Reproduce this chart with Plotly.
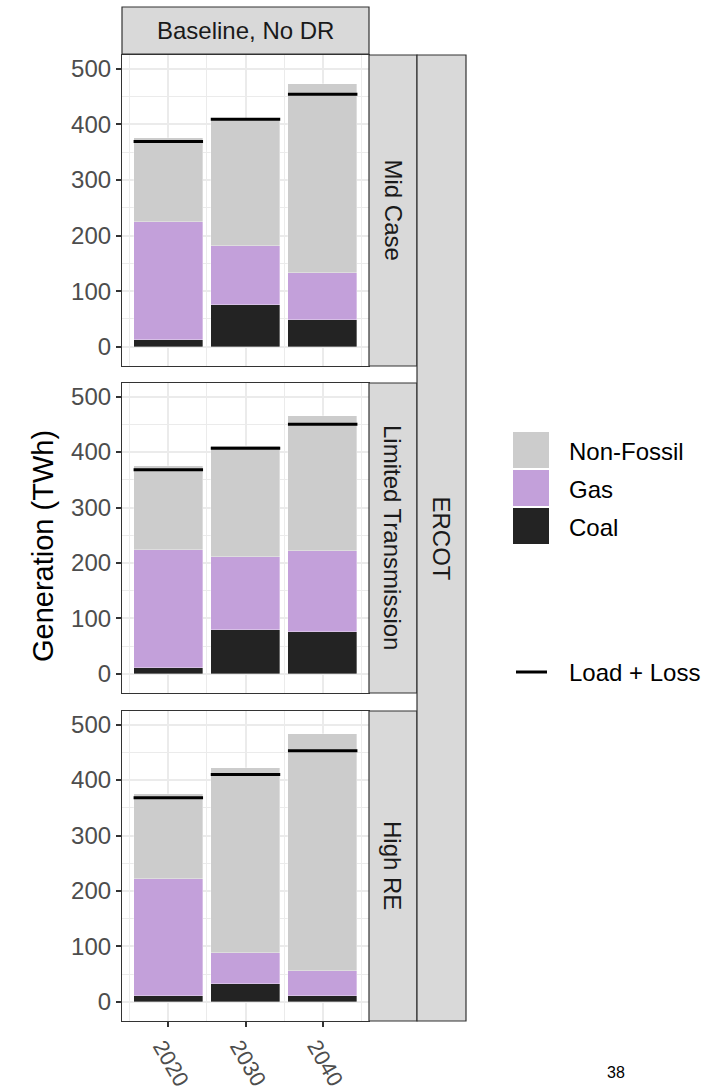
import plotly.graph_objects as go

W, H = 720, 1091

years = ["2020", "2030", "2040"]
scenarios = ["Mid Case", "Limited Transmission", "High RE"]
region = "ERCOT"
column_label = "Baseline, No DR"

# Generation by source (TWh), one list per scenario, ordered by year
coal_mid = [12, 75, 49]
gas_mid = [212, 106, 84]
nonfossil_mid = [151, 229, 340]
load_mid = [369, 409, 454]

coal_lt = [11, 80, 75]
gas_lt = [212, 131, 147]
nonfossil_lt = [151, 200, 243]
load_lt = [368, 407, 450]

coal_hre = [11, 32, 10]
gas_hre = [211, 56, 45]
nonfossil_hre = [152, 333, 428]
load_hre = [368, 410, 453]

y_ticks = [0, 100, 200, 300, 400, 500]

coal_by_row = [coal_mid, coal_lt, coal_hre]
gas_by_row = [gas_mid, gas_lt, gas_hre]
nonfossil_by_row = [nonfossil_mid, nonfossil_lt, nonfossil_hre]
load_by_row = [load_mid, load_lt, load_hre]

COAL = "#232323"
GAS = "#C3A0DA"
NONFOSSIL = "#CCCCCC"
STRIP_FILL = "#D9D9D9"
BORDER = "#333333"
GRID = "#EBEBEB"
TICKFONT = "#4D4D4D"
FONT = "Liberation Sans, Arial, sans-serif"


def px(x):
    return x / W


def py(y):
    return 1 - y / H


# panel extents in pixels
panel_x = (122, 369)
panel_rows = [(55, 366), (383, 693), (711, 1021)]
bar_width = 0.9
xpos = [1, 2, 3]

fig = go.Figure()

for r in range(3):
    xa = "x" if r == 0 else f"x{r + 1}"
    ya = "y" if r == 0 else f"y{r + 1}"
    for name, vals, col in [("Coal", coal_by_row[r], COAL),
                            ("Gas", gas_by_row[r], GAS),
                            ("Non-Fossil", nonfossil_by_row[r], NONFOSSIL)]:
        fig.add_trace(go.Bar(
            x=xpos, y=vals, width=bar_width, name=name,
            marker=dict(color=col, line=dict(color="rgba(255,255,255,0.55)", width=0.6)),
            xaxis=xa, yaxis=ya, showlegend=False,
        ))
    # load + loss segments spanning each bar
    lx, ly = [], []
    for xi, v in zip(xpos, load_by_row[r]):
        lx += [xi - bar_width / 2, xi + bar_width / 2, None]
        ly += [v, v, None]
    fig.add_trace(go.Scatter(
        x=lx, y=ly, mode="lines", line=dict(color="black", width=3),
        xaxis=xa, yaxis=ya, showlegend=False, name="Load + Loss",
    ))

layout = dict(
    width=W, height=H, margin=dict(l=0, r=0, t=0, b=0),
    paper_bgcolor="white", plot_bgcolor="white",
    barmode="stack", bargap=0, showlegend=False,
    font=dict(family=FONT, color="#1A1A1A"),
)

for r in range(3):
    top, bot = panel_rows[r]
    xk = "xaxis" if r == 0 else f"xaxis{r + 1}"
    yk = "yaxis" if r == 0 else f"yaxis{r + 1}"
    ya = "y" if r == 0 else f"y{r + 1}"
    xa = "x" if r == 0 else f"x{r + 1}"
    last = r == 2
    layout[xk] = dict(
        domain=[px(panel_x[0]), px(panel_x[1])], anchor=ya, automargin=False,
        range=[0.4, 3.6], tickmode="array", tickvals=xpos, ticktext=years,
        showticklabels=False, ticks="outside" if last else "", ticklen=5,
        tickcolor=BORDER, tickwidth=1.5,
        showgrid=True, gridcolor=GRID, gridwidth=2,
        minor=dict(tickvals=[0.5, 1.5, 2.5, 3.5], showgrid=True,
                   gridcolor=GRID, gridwidth=1, ticks=""),
        showline=True, mirror=True, linecolor=BORDER, linewidth=1.2,
        zeroline=False, fixedrange=True,
    )
    layout[yk] = dict(
        domain=[py(bot), py(top)], anchor=xa, automargin=False,
        range=[-34.5, 524.5], tickmode="array", tickvals=y_ticks,
        ticks="outside", ticklen=5, tickcolor=BORDER, tickwidth=1.5,
        tickfont=dict(size=24, color=TICKFONT, family=FONT),
        showgrid=True, gridcolor=GRID, gridwidth=2,
        minor=dict(tickvals=[50, 150, 250, 350, 450], showgrid=True,
                   gridcolor=GRID, gridwidth=1, ticks=""),
        showline=True, mirror=True, linecolor=BORDER, linewidth=1.2,
        zeroline=False, fixedrange=True,
    )

shapes = []
annotations = []


def strip(x0, y0, x1, y1):
    shapes.append(dict(type="rect", xref="paper", yref="paper",
                       x0=px(x0), x1=px(x1), y0=py(y1), y1=py(y0),
                       fillcolor=STRIP_FILL, line=dict(color=BORDER, width=1.2),
                       layer="above"))


def text(x, y, s, size, angle=0, xanchor="center", color="#1A1A1A"):
    annotations.append(dict(xref="paper", yref="paper", x=px(x), y=py(y),
                            text=s, showarrow=False, textangle=angle,
                            xanchor=xanchor, yanchor="middle",
                            font=dict(size=size, color=color, family=FONT)))


# rotated year labels under the bottom panel, placed on the x3 scale
for xi, lab in zip(xpos, years):
    annotations.append(dict(xref="x3", yref="paper", x=xi, y=py(1063),
                            text=lab, showarrow=False, textangle=60,
                            xanchor="center", yanchor="middle", xshift=3,
                            font=dict(size=22, color=TICKFONT, family=FONT)))

# column strip on top
strip(122, 7, 369, 54)
text(245.5, 31, column_label, 24)

# row strips
for r in range(3):
    top, bot = panel_rows[r]
    strip(369, top, 417, bot)
    text(393, (top + bot) / 2, scenarios[r], 24, angle=90)

# outer region strip
strip(417, 55, 466, 1021)
text(441.5, 538, region, 24, angle=90)

# y-axis title
text(43, 546, "Generation (TWh)", 29, angle=-90, color="black")

# legend
legend_items = [("Non-Fossil", NONFOSSIL), ("Gas", GAS), ("Coal", COAL)]
sw_top = 432
for i, (lab, col) in enumerate(legend_items):
    y0 = sw_top + i * 38
    shapes.append(dict(type="rect", xref="paper", yref="paper",
                       x0=px(513), x1=px(549), y0=py(y0 + 36), y1=py(y0),
                       fillcolor=col, line=dict(width=0)))
    text(567, y0 + 19, lab, 24, xanchor="left", color="black")

shapes.append(dict(type="line", xref="paper", yref="paper",
                   x0=px(516), x1=px(547), y0=py(672), y1=py(672),
                   line=dict(color="black", width=3)))
text(567, 672, "Load + Loss", 24, xanchor="left", color="black")

# page number
text(616, 1072, "38", 16, color="black")

layout["shapes"] = shapes
layout["annotations"] = annotations
fig.update_layout(**layout)

fig.write_html("out.html")
